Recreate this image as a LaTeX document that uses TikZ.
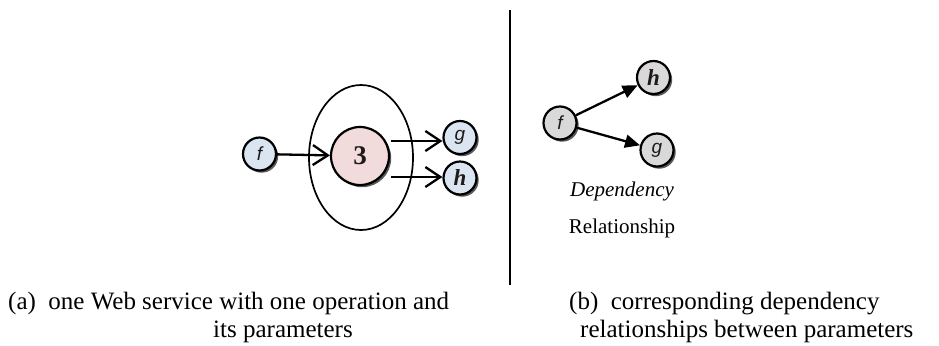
\documentclass[tikz,border=0pt]{standalone}
\usepackage{fontspec}
\setmainfont{Liberation Serif}
\newfontfamily\letterfont{Liberation Sans}
\usetikzlibrary{arrows.meta,shadows}

\definecolor{parblue}{HTML}{DBE5F1}
\definecolor{pargray}{HTML}{D9D9D9}
\definecolor{oppink}{HTML}{F2DCDB}
\definecolor{letterink}{HTML}{1F1A17}

\tikzset{
  param/.style={circle, draw=black, line width=2.2bp, minimum size=33bp,
    inner sep=0pt, fill=parblue, text=letterink,
    drop shadow={shadow xshift=2.2bp, shadow yshift=-2.2bp, fill=black, opacity=.65},
    font=\fontsize{19bp}{22bp}\selectfont\letterfont\itshape},
  greyparam/.style={param, fill=pargray},
  boldparam/.style={font=\fontsize{23bp}{26bp}\selectfont\bfseries\itshape},
  operation/.style={circle, draw=black, line width=2.2bp, minimum size=58bp,
    inner sep=0pt, fill=oppink, text=letterink,
    drop shadow={shadow xshift=2.2bp, shadow yshift=-2.2bp, fill=black, opacity=.65},
    font=\fontsize{27bp}{30bp}\selectfont\bfseries},
  barb/.style={line width=2.3bp, -{Straight Barb[length=15bp, width=20bp, line width=2.3bp]}},
  tri/.style={line width=2.3bp, -{Triangle[length=15bp, width=13bp]}},
  caption/.style={inner sep=0pt, font=\fontsize{25bp}{28bp}\selectfont},
  label/.style={inner sep=0pt, font=\fontsize{21bp}{24bp}\selectfont}
}

\begin{document}
\begin{tikzpicture}[x=1bp, y=-1bp]
\useasboundingbox (0,0) rectangle (939,345);

% (a) one service with one operation and its parameters
\draw[line width=1.7bp] (361,157.5) ellipse [x radius=52, y radius=72.5];
\node[operation] (op) at (360,156) {3};
\node[param] (fa) at (259.5,154) {f};
\node[param] (ga) at (460,137.5) {g};
\node[param, boldparam] (ha) at (460,178) {h};
\coordinate (ogs) at (391,141);
\coordinate (ohs) at (391,177);
\draw[barb] (fa) -- (op);
\draw[barb] (ogs) -- (ga.west |- ogs);
\draw[barb] (ohs) -- (ha.west |- ohs);

% separator
\coordinate (sepT) at (510,10);
\coordinate (sepB) at (510,285);
\draw[line width=2bp] (sepT) -- (sepB);

% (b) dependency relationships
\node[greyparam] (fb) at (560,123) {f};
\node[greyparam, boldparam] (hb) at (653.5,77.5) {h};
\node[greyparam] (gb) at (657,150) {g};
\draw[tri] (fb) -- (hb);
\draw[tri] (fb) -- (gb);
\node[label, anchor=base] (dep) at (622,196) {\itshape Dependency};
\node[label, anchor=base] (rel) at (622,233) {Relationship};

% captions
\node[caption, anchor=base west] (capa1) at (8,309) {(a)\ \ one Web service with one operation and};
\node[caption, anchor=base west] (capa2) at (213,337) {its parameters};
\node[caption, anchor=base west] (capb1) at (569,309) {(b)\ \ corresponding dependency};
\node[caption, anchor=base west] (capb2) at (580,337) {relationships between parameters};
\end{tikzpicture}
\end{document}
